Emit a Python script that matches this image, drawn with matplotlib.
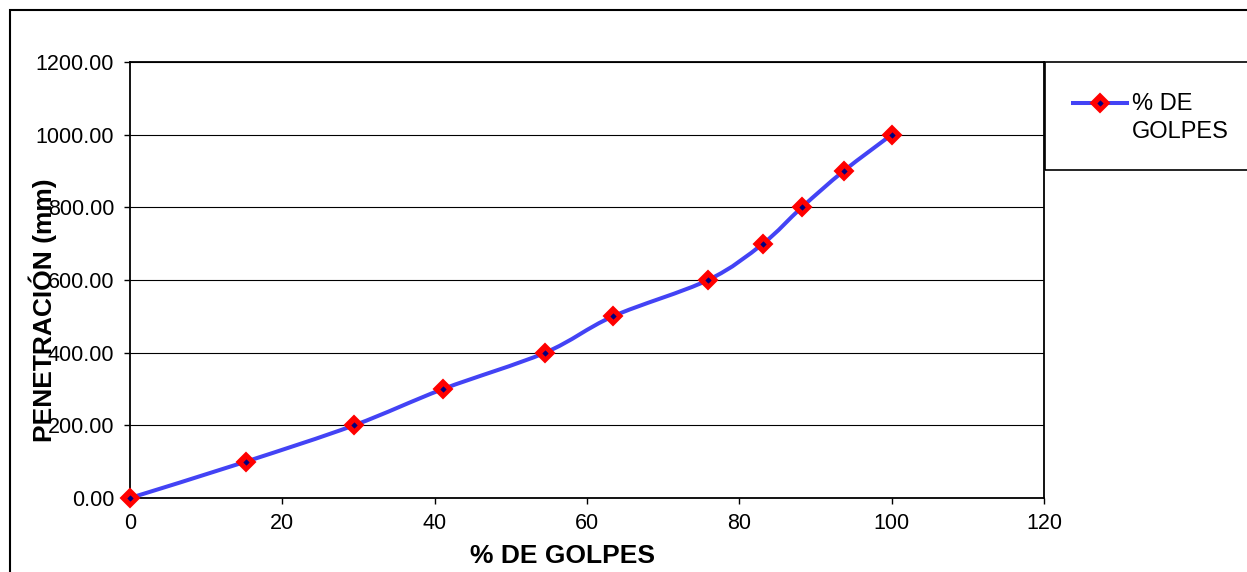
import numpy as np
import matplotlib
matplotlib.use("Agg")
import matplotlib.pyplot as plt
from matplotlib.path import Path
from matplotlib.patches import PathPatch, Rectangle
from matplotlib.lines import Line2D
from matplotlib.ticker import FormatStrFormatter, MultipleLocator

plt.rcParams['font.family'] = ['Liberation Sans', 'DejaVu Sans']

# Percentage of blows vs. penetration depth
golpes_pct = [0.0, 15.2, 29.4, 41.1, 54.5, 63.4, 75.9, 83.1, 88.2, 93.7, 100.0]
penetracion_mm = [0, 100, 200, 300, 400, 500, 600, 700, 800, 900, 1000]

series_label = ["% DE", "GOLPES"]
x_label = "% DE GOLPES"
y_label = "PENETRACIÓN (mm)"

LINE_COLOR = "#4343F5"
MARK_EDGE = "#FF0000"
MARK_CORE = "#000080"

W, H = 1247, 572
fig = plt.figure(figsize=(W / 100, H / 100), dpi=100)
ax = fig.add_axes([130 / W, 1 - 498 / H, 914 / W, 436 / H])


def smooth_path(xs, ys):
    """Catmull-Rom curve through the points, expressed as cubic Bezier segments."""
    pts = np.column_stack([xs, ys]).astype(float)
    n = len(pts)
    verts = [pts[0]]
    codes = [Path.MOVETO]
    for i in range(n - 1):
        p0 = pts[i - 1] if i > 0 else pts[i]
        p1 = pts[i]
        p2 = pts[i + 1]
        p3 = pts[i + 2] if i + 2 < n else pts[i + 1]
        c1 = p1 + (p2 - p0) / 6.0
        c2 = p2 - (p3 - p1) / 6.0
        verts += [c1, c2, p2]
        codes += [Path.CURVE4] * 3
    return Path(verts, codes)


MS_OUT, MEW_OUT, MS_IN = 9.5, 1.5, 2.8

ax.add_patch(PathPatch(smooth_path(golpes_pct, penetracion_mm), facecolor='none',
                       edgecolor=LINE_COLOR, lw=2.9, zorder=3, capstyle='round',
                       joinstyle='round'))
ax.plot(golpes_pct, penetracion_mm, linestyle='none', marker='D', ms=MS_OUT,
        mfc=MARK_EDGE, mec=MARK_EDGE, mew=MEW_OUT, zorder=4, clip_on=False)
ax.plot(golpes_pct, penetracion_mm, linestyle='none', marker='D', ms=MS_IN,
        mfc=MARK_CORE, mec=MARK_CORE, mew=0.4, zorder=5, clip_on=False)

ax.set_xlim(0, 120)
ax.set_ylim(0, 1200)
ax.xaxis.set_major_locator(MultipleLocator(20))
ax.yaxis.set_major_locator(MultipleLocator(200))
ax.yaxis.set_major_formatter(FormatStrFormatter('%.2f'))
ax.grid(axis='y', color='black', lw=0.8)
ax.set_axisbelow(True)
for sp in ax.spines.values():
    sp.set_linewidth(1.3)
    sp.set_color('black')
ax.tick_params(axis='both', direction='out', length=4.5, width=1.0,
               labelsize=15.5, colors='black')
ax.tick_params(axis='y', pad=7)
ax.tick_params(axis='x', pad=6)

ax.set_xlabel(x_label, fontsize=19, fontweight='bold', va='baseline')
ax.xaxis.set_label_coords(563 / W, 9 / H, transform=fig.transFigure)
ax.set_ylabel(y_label, fontsize=19, fontweight='bold', va='center', ha='center')
ax.yaxis.set_label_coords(43 / W, 1 - 310 / H, transform=fig.transFigure)

# Outer chart frame
fig.patches.append(Rectangle((10 / W, -0.1), 1.2, 1.1 - 10 / H, transform=fig.transFigure,
                             fill=False, edgecolor='black', lw=1.5))
# Legend frame and entry
fig.patches.append(Rectangle((1045 / W, 1 - 170 / H), 0.5, 108 / H, transform=fig.transFigure,
                             fill=False, edgecolor='black', lw=1.2))
ly = 1 - 103 / H
fig.lines.append(Line2D([1073 / W, 1127 / W], [ly, ly], transform=fig.transFigure,
                        color=LINE_COLOR, lw=2.9))
fig.lines.append(Line2D([1100 / W], [ly], transform=fig.transFigure, marker='D', ms=MS_OUT,
                        mfc=MARK_EDGE, mec=MARK_EDGE, mew=MEW_OUT))
fig.lines.append(Line2D([1100 / W], [ly], transform=fig.transFigure, marker='D', ms=MS_IN,
                        mfc=MARK_CORE, mec=MARK_CORE, mew=0.4))
for i, line in enumerate(series_label):
    fig.text(1132 / W, 1 - (110 + 28 * i) / H, line, fontsize=17, va='baseline',
             ha='left', color='black')

fig.savefig('out.png', dpi=100)
